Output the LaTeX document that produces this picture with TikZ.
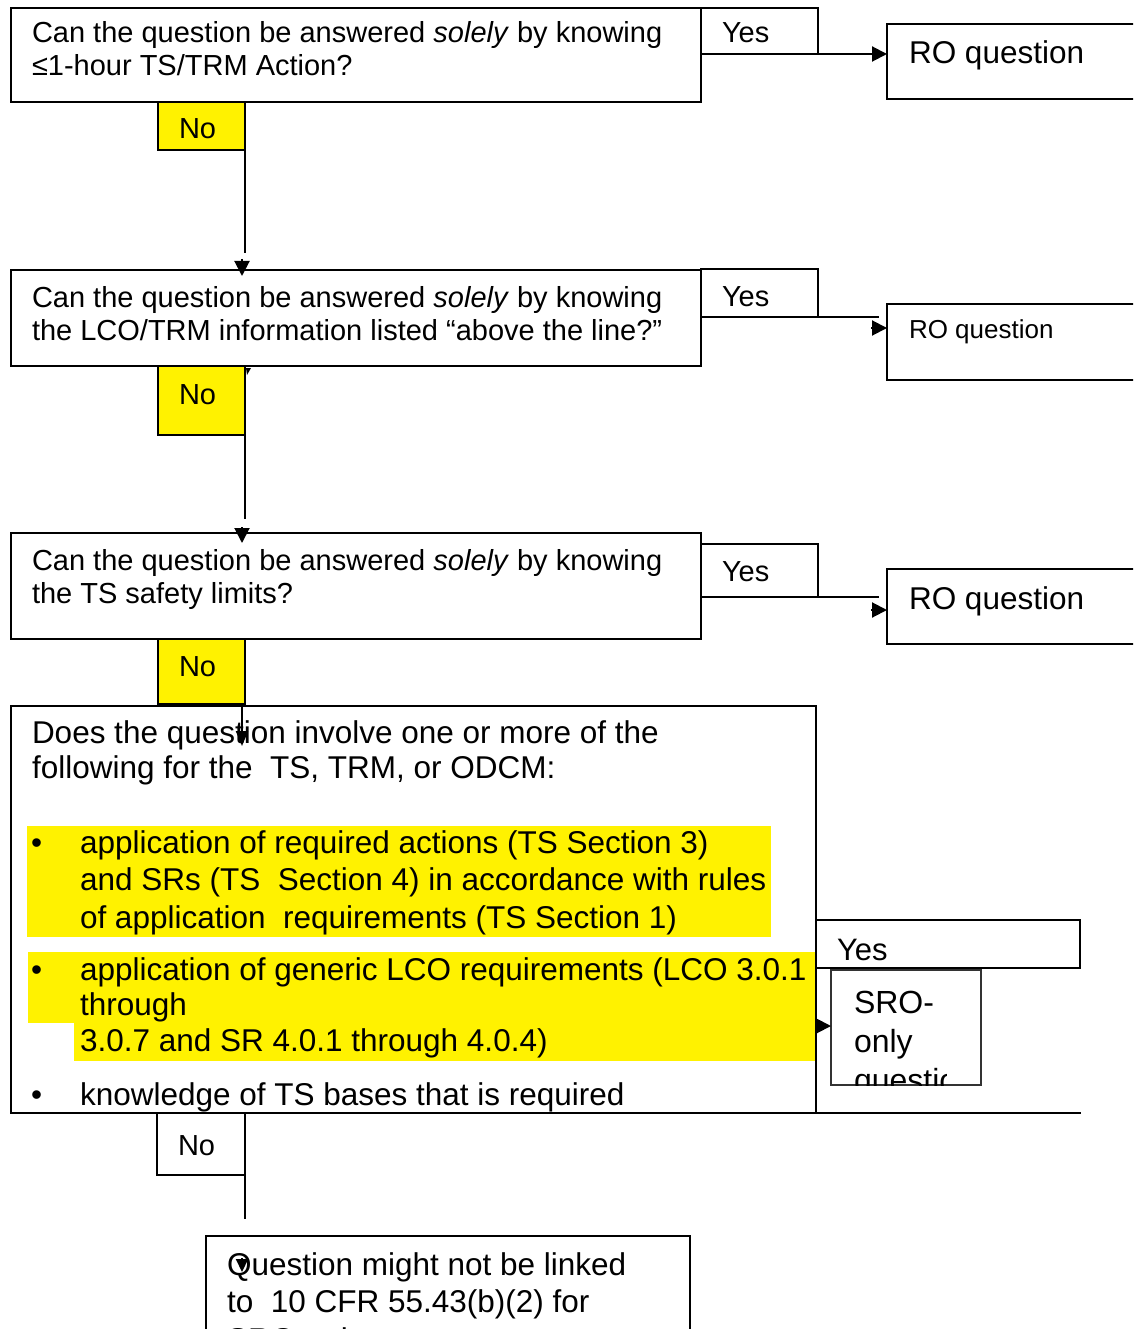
\documentclass[tikz,border=0pt]{standalone}
\usepackage{fontspec}
\setmainfont{Liberation Sans}
\usetikzlibrary{arrows.meta}

% fixes the height of a first line so that its baseline sits a known distance below the node top
\newcommand\toprule[1]{\rule{0pt}{#1}}

\begin{document}
\begin{tikzpicture}[x=1pt,y=-1pt,
  box/.style={draw, line width=2pt, anchor=north west, inner sep=0pt, outer sep=0pt},
  nobox/.style={box, fill=yellow},
  srobox/.style={box, draw=black!80},
  txt/.style={anchor=north west, inner sep=0pt, outer sep=0pt, align=left},
  small/.style={txt, font=\fontsize{29}{33}\selectfont},
  large/.style={txt, font=\fontsize{31.5}{37.5}\selectfont},
  conn/.style={line width=2pt},
  tip/.style={-{Triangle[length=15pt,width=15pt]}},
  hl/.style={fill=yellow},
]
\path[use as bounding box] (0,0) rectangle (1133,1329);
\clip (0,0) rectangle (1133,1329);

% ---------- question 1 ----------
\node[box, minimum width=690pt, minimum height=94pt] (q1) at (11,8) {};
\node[box, minimum width=117pt, minimum height=46pt] (yes1) at (701,8) {};
\node[box, minimum width=260pt, minimum height=75pt] (ro1) at (887,24) {};
\node[nobox, minimum width=87pt, minimum height=48pt] (no1) at (158,102) {};
\node[small] (q1t) at (32,19) {\toprule{24pt}Can the question be answered \textit{solely} by knowing\\≤1-hour TS/TRM Action?};
\node[small] (yes1t) at (722,19) {\toprule{24pt}Yes};
\node[large] (ro1t) at (909,38) {\toprule{26pt}RO question};
\node[small] (no1t) at (179,115) {\toprule{24pt}No};

% ---------- question 2 ----------
\node[box, minimum width=690pt, minimum height=96pt] (q2) at (11,270) {};
\node[box, minimum width=117pt, minimum height=48pt] (yes2) at (701,269) {};
\node[box, minimum width=260pt, minimum height=76pt] (ro2) at (887,304) {};
\node[nobox, minimum width=87pt, minimum height=69pt] (no2) at (158,366) {};
\node[small] (q2t) at (32,283) {\toprule{24pt}Can the question be answered \textit{solely} by knowing\\the LCO/TRM information listed “above the line?”};
\node[small] (yes2t) at (722,282) {\toprule{24pt}Yes};
\node[txt, font=\fontsize{26}{30}\selectfont] (ro2t) at (909,316) {\toprule{22pt}RO question};
\node[small] (no2t) at (179,380) {\toprule{24pt}No};

% ---------- question 3 ----------
\node[box, minimum width=690pt, minimum height=106pt] (q3) at (11,533) {};
\node[box, minimum width=117pt, minimum height=53pt] (yes3) at (701,544) {};
\node[box, minimum width=260pt, minimum height=75pt] (ro3) at (887,569) {};
\node[nobox, minimum width=87pt, minimum height=65pt] (no3) at (158,639) {};
\node[small] (q3t) at (32,546) {\toprule{24pt}Can the question be answered \textit{solely} by knowing\\the TS safety limits?};
\node[small] (yes3t) at (722,557) {\toprule{24pt}Yes};
\node[large] (ro3t) at (909,583) {\toprule{26pt}RO question};
\node[small] (no3t) at (179,652) {\toprule{24pt}No};

% ---------- question 4 ----------
\fill[hl] (27,826) rectangle (771,937);
\fill[hl] (28,952) rectangle (816,1023);
\fill[hl] (74,1023) rectangle (816,1061);
\node[box, minimum width=805pt, minimum height=407pt] (q4) at (11,706) {};
\node[box, minimum width=264pt, minimum height=48pt] (yes4) at (816,920) {};
\node[srobox, minimum width=150pt, minimum height=115pt] (sro) at (831,970) {};
\node[box, minimum width=88pt, minimum height=62pt] (no4) at (157,1113) {};
\node[txt, font=\fontsize{31.5}{35}\selectfont] (q4t) at (32,717)
  {\toprule{26pt}Does the question involve one or more of the\\following for the\ \ TS, TRM, or ODCM:};
\node[large] (b1) at (31,827) {\toprule{26pt}•};
\node[large] (i1) at (80,827) {\toprule{26pt}application of required actions (TS Section 3)\\and SRs (TS\ \ Section 4) in accordance with rules\\of application\ \ requirements (TS Section 1)};
\node[txt, font=\fontsize{31.5}{35.5}\selectfont] (b2) at (31,954) {\toprule{26pt}•};
\node[txt, font=\fontsize{31.5}{35.5}\selectfont] (i2) at (80,954) {\toprule{26pt}application of generic LCO requirements (LCO 3.0.1\\through\\3.0.7 and SR 4.0.1 through 4.0.4)};
\node[large] (b3) at (31,1079) {\toprule{26pt}•};
\node[large] (i3) at (80,1079) {\toprule{26pt}knowledge of TS bases that is required};
\node[txt, font=\fontsize{31}{37}\selectfont] (yes4t) at (837,934) {\toprule{26pt}Yes};
\node[small] (no4t) at (178,1131) {\toprule{24pt}No};
\begin{scope}
  % the text area of the small box is narrower than the box itself
  \clip (sro.north west) rectangle (946,1085);
  \node[txt, font=\fontsize{32}{39}\selectfont] (srot) at (854,987) {\toprule{26pt}SRO-\\only\\question};
\end{scope}

% ---------- outcome ----------
\node[box, minimum width=484pt, minimum height=150pt] (res) at (206,1236) {};
\node[large] (rest) at (227,1249) {\toprule{26pt}Question might not be linked\\to\ \ 10 CFR 55.43(b)(2) for\\SRO-only};

% ---------- connectors ----------
\coordinate (t1) at (242,276);
\coordinate (t2) at (887,328);
\coordinate (t3) at (887,610);
\coordinate (t4) at (831,1026);
\coordinate (t5) at (242,543);
\coordinate (t6) at (242,746);
\coordinate (t7) at (242,1272);

% yes branches
\draw[conn, tip] (yes1.south east) -- (ro1.west |- yes1.south east);
\draw[conn] (yes2.south east) -- ++(61,0);
\draw[conn, tip] ([xshift=-16pt]t2) -- (t2);
\draw[conn] (yes3.south east) -- ++(61,0);
\draw[conn, tip] ([xshift=-16pt]t3) -- (t3);
\draw[conn, tip] ([xshift=-15pt]t4) -- (t4);
\draw[conn] (q4.south east) -- ++(265,0);

% no branches (yshift is measured upwards on the page)
\draw[conn] (no1.south east) -- ++(0,103);
\draw[conn, tip] ([yshift=17pt]t1) -- (t1);
\draw[conn] (no2.south east) -- ++(0,84);
\draw[conn, tip] ([yshift=16pt]t5) -- (t5);
\fill (246,368) -- (251,368) -- (247,375) -- cycle;
\draw[conn, -{Triangle[length=15pt,width=12pt]}] ([xshift=-3pt]no3.south east) -- (t6);
\draw[conn] (no4.south east) -- ++(0,44);
\draw[conn, -{Triangle[length=13pt,width=12pt]}] ([yshift=14pt]t7) -- (t7);
\end{tikzpicture}
\end{document}
